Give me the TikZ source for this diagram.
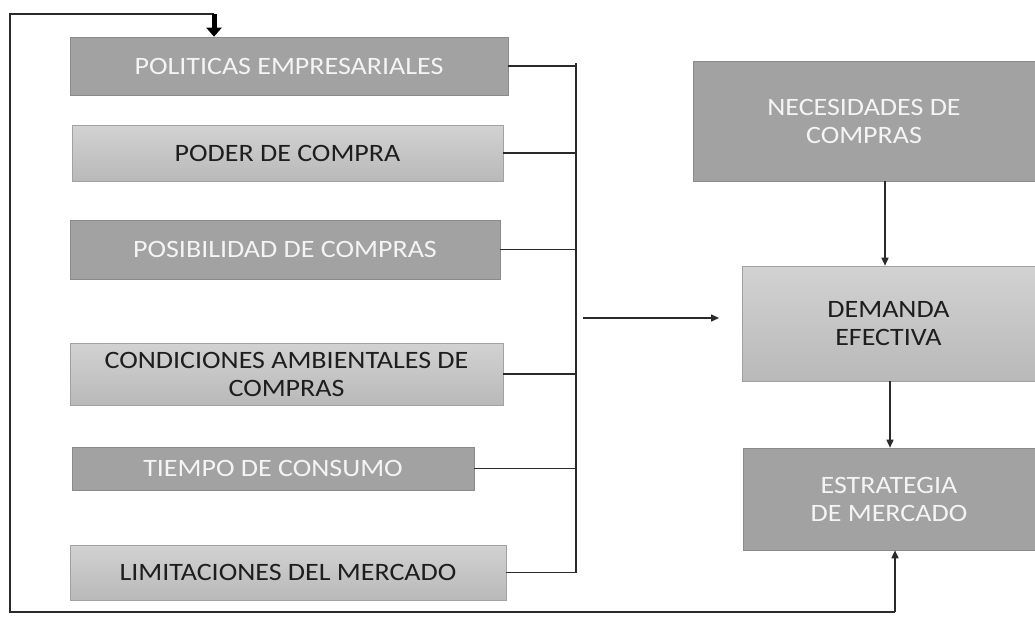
\documentclass[tikz,border=0pt]{standalone}
\usepackage{fontspec}
\setmainfont[FakeStretch=1.12]{Carlito}
\usetikzlibrary{arrows.meta}
\definecolor{darkbox}{HTML}{A2A2A2}
\definecolor{lightbox}{HTML}{C9C9C9}
\definecolor{lightboxtop}{HTML}{D2D2D2}
\definecolor{wtext}{HTML}{F4F4F4}
\definecolor{dtext}{HTML}{1E1E1E}
\definecolor{linec}{HTML}{2A2A2A}
\tikzset{
  darkstep/.style={rectangle, fill=darkbox, draw=darkbox!85!black, line width=0.6pt, text=wtext, font=\fontsize{25}{28}\selectfont, align=center, inner sep=0pt},
  lightstep/.style={rectangle, top color=lightboxtop, bottom color=lightbox!92!black, draw=lightbox!80!black, line width=0.6pt, text=dtext, font=\fontsize{25}{28}\selectfont, align=center, inner sep=0pt},
  conn/.style={draw=linec, line width=1.5pt},
  arr/.style={conn, -{Triangle[length=8pt,width=7pt]}},
}
\begin{document}
\begin{tikzpicture}[x=1pt,y=-1pt]
\useasboundingbox[fill=white] (0,0) rectangle (1035,616);
% left column
\node[darkstep, minimum width=438pt, minimum height=58pt] (pol) at (289,66) {POLITICAS EMPRESARIALES};
\node[lightstep, minimum width=431pt, minimum height=56pt] (pod) at (287.5,153) {PODER DE COMPRA};
\node[darkstep, minimum width=430pt, minimum height=59pt] (pos) at (285,249.5) {POSIBILIDAD DE COMPRAS};
\node[lightstep, minimum width=433pt, minimum height=62pt] (con) at (286.5,374) {CONDICIONES AMBIENTALES DE\\COMPRAS};
\node[darkstep, minimum width=402pt, minimum height=43pt] (tie) at (273,468.5) {TIEMPO DE CONSUMO};
\node[lightstep, minimum width=436pt, minimum height=55pt] (lim) at (288,572.5) {LIMITACIONES DEL MERCADO};
% right column
\node[darkstep, minimum width=342pt, minimum height=120pt] (nec) at (864,121) {NECESIDADES DE\\COMPRAS};
\node[lightstep, minimum width=293pt, minimum height=115pt] (dem) at (888.5,323.5) {DEMANDA\\EFECTIVA};
\node[darkstep, minimum width=292pt, minimum height=102pt] (est) at (889,499) {ESTRATEGIA\\DE MERCADO};
% bus
\coordinate (bustop) at (576,63);
\coordinate (busbot) at (576,573);
\draw[conn] (bustop) -- (busbot);
\draw[conn] (pol.east) -- (pol.east -| bustop);
\draw[conn] (pod.east) -- (pod.east -| bustop);
\draw[conn] (pos.east) -- (pos.east -| bustop);
\draw[conn] (con.east) -- (con.east -| bustop);
\draw[conn] (tie.east) -- (tie.east -| bustop);
\draw[conn] (lim.east) -- (lim.east -| bustop);
% arrow to demanda
\coordinate (a1) at (583,318);
\coordinate (a2) at (719,318);
\draw[arr] (a1) -- (a2);
% vertical arrows
\draw[arr] (nec.south -| 885,0) -- (dem.north -| 885,0);
\draw[arr] (dem.south -| 890,0) -- (est.north -| 890,0);
% feedback loop
\coordinate (lt) at (10,14);
\coordinate (lb) at (10,612);
\coordinate (rb) at (895,612);
\coordinate (tt) at (214,14);
\draw[conn] (tt) -- (lt) -- (lb) -- (rb);
\draw[arr] (rb) -- (est.south -| rb);
\draw[draw=black, line width=5pt, -{Triangle[length=9pt,width=15pt]}] (tt) -- (tt |- pol.north);
\end{tikzpicture}
\end{document}
